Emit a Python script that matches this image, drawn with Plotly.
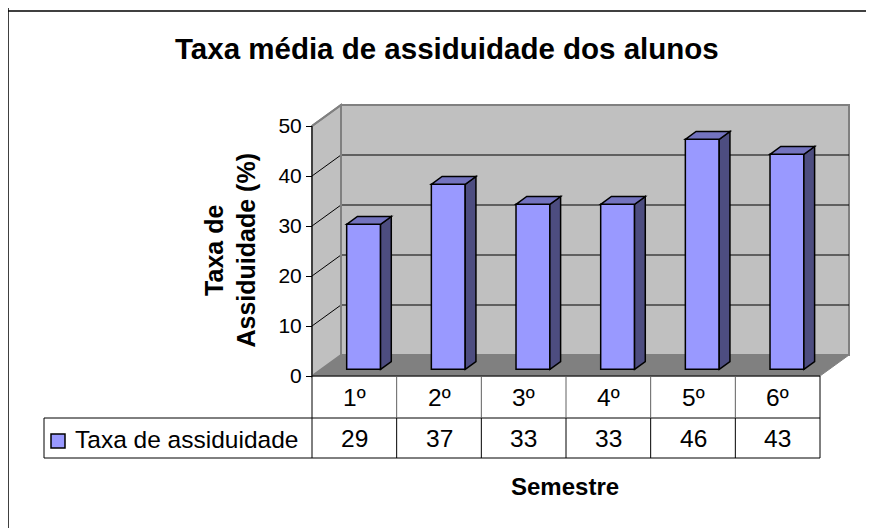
import plotly.graph_objects as go

# ---- data ----
categories = ["1º", "2º", "3º", "4º", "5º", "6º"]
values = [29, 37, 33, 33, 46, 43]
series_name = "Taxa de assiduidade"
y_ticks = [0, 10, 20, 30, 40, 50]
title_text = "Taxa média de assiduidade dos alunos"
y_title = "Taxa de<br>Assiduidade (%)"
x_title = "Semestre"

# ---- geometry (pixel frame of the page; figure sits at the 8px body margin) ----
W, H = 866, 520
OFF = 8
X0, CW = 312.0, 84.667   # left edge of the front plane, width of one category
Y0, PY = 376.0, 5.0      # pixel of value 0, pixels per unit

def xd(px):
    return -0.5 + (px - X0) / CW

def yd(py):
    return (Y0 - py) / PY

n = len(categories)
ymax = max(y_ticks)
wdx, wdy = 29 / CW, 21 / PY
bshx, bshy = 0.32 * wdx, 0.32 * wdy
bdx, bdy = 0.37 * wdx, 0.37 * wdy
bw = 0.40

FONT = "Arial, Liberation Sans, sans-serif"
FRONT, SIDE, TOP = "#9999FF", "#4D4D80", "#7373BF"

fig = go.Figure()

xs = [i + bshx for i in range(n)]
fig.add_trace(go.Bar(
    x=xs, y=values, base=bshy, width=bw,
    marker=dict(color=FRONT, line=dict(color="black", width=1.5)),
    showlegend=False, hoverinfo="skip",
))

shapes = []

def poly(pts, fill, line="black", lw=1, layer="above"):
    d = "M " + " L ".join(f"{x},{y}" for x, y in pts) + " Z"
    shapes.append(dict(type="path", path=d, xref="x", yref="y",
                       fillcolor=fill, line=dict(color=line, width=lw), layer=layer))

def seg(x1, y1, x2, y2, color="black", lw=1, layer="above"):
    shapes.append(dict(type="line", x0=x1, y0=y1, x1=x2, y1=y2, xref="x", yref="y",
                       line=dict(color=color, width=lw), layer=layer))

L, R = -0.5, n - 0.5
poly([(L, 0), (R, 0), (R + wdx, wdy), (L + wdx, wdy)], "#808080", line="#808080", lw=1, layer="below")
poly([(L, 0), (L + wdx, wdy), (L + wdx, ymax + wdy), (L, ymax)], "#C0C0C0", line="#808080", lw=2, layer="below")
poly([(L + wdx, wdy), (R + wdx, wdy), (R + wdx, ymax + wdy), (L + wdx, ymax + wdy)], "#C0C0C0",
     line="#808080", lw=2, layer="below")
for t in y_ticks[1:-1]:
    seg(L + wdx, t + wdy, R + wdx, t + wdy, "black", 1, "below")
    seg(L, t, L + wdx, t + wdy, "black", 1, "below")
seg(L, ymax, L + wdx, ymax + wdy, "#808080", 2, "below")
seg(L + wdx, wdy, L + wdx, ymax + wdy, "#808080", 2, "below")

for x, v in zip(xs, values):
    xl, xr = x - bw / 2, x + bw / 2
    b, t = bshy, bshy + v
    poly([(xr, b), (xr + bdx, b + bdy), (xr + bdx, t + bdy), (xr, t)], SIDE, lw=1.5)
    poly([(xl, t), (xl + bdx, t + bdy), (xr + bdx, t + bdy), (xr, t)], TOP, lw=1.5)

seg(L, 0, L, ymax, "black", 1)

# data table
r0, r1, r2 = 0, yd(418), yd(458)
xleft = xd(44)
seg(L, r0, R, r0, "black", 1)
seg(xleft, r1, R, r1, "black", 1)
seg(xleft, r2, R, r2, "black", 1)
seg(xleft, r1, xleft, r2, "black", 1)
for k in range(n + 1):
    xb = L + k
    outer = k in (0, n)
    seg(xb, r0, xb, r1, "black" if outer else "#606060", 1)
    seg(xb, r1, xb, r2, "black", 1)

shapes.append(dict(type="rect", xref="x", yref="y", x0=xd(51), x1=xd(65), y0=yd(448), y1=yd(434),
                   fillcolor=FRONT, line=dict(color="black", width=1.5)))

# chart border (left and top edges visible)
shapes.append(dict(type="line", xref="x", yref="paper", x0=xd(8), x1=xd(8), y0=0, y1=1,
                   line=dict(color="black", width=1.5)))
shapes.append(dict(type="line", xref="paper", yref="y", x0=0, x1=1, y0=yd(11), y1=yd(11),
                   line=dict(color="black", width=1.5)))

annotations = []
TF = 24.5
for i, (c, v) in enumerate(zip(categories, values)):
    annotations.append(dict(x=i, y=yd(397), text=c, showarrow=False, xref="x", yref="y",
                            font=dict(size=TF, color="black", family=FONT)))
    annotations.append(dict(x=i, y=yd(438), text=str(v), showarrow=False, xref="x", yref="y",
                            font=dict(size=TF, color="black", family=FONT)))
annotations.append(dict(x=xd(73), y=yd(439), text=series_name, showarrow=False, xref="x", yref="y",
                        xanchor="left", font=dict(size=TF, color="black", family=FONT)))
annotations.append(dict(x=xd(447), y=yd(48), text=f"<b>{title_text}</b>", showarrow=False, xref="x", yref="y",
                        font=dict(size=29.5, color="black", family=FONT)))
annotations.append(dict(x=xd(565), y=yd(486), text=f"<b>{x_title}</b>", showarrow=False, xref="x", yref="y",
                        font=dict(size=24, color="black", family=FONT)))
annotations.append(dict(x=xd(229.5), y=yd(251), text=f"<b>{y_title}</b>", showarrow=False, xref="x", yref="y",
                        textangle=-90, font=dict(size=25, color="black", family=FONT)))

fig.update_layout(
    width=W, height=H, margin=dict(l=0, r=0, t=0, b=0),
    paper_bgcolor="white", plot_bgcolor="white",
    showlegend=False, shapes=shapes, annotations=annotations,
    xaxis=dict(range=[xd(OFF), xd(OFF + W)], visible=False, fixedrange=True),
    yaxis=dict(range=[yd(OFF + H), yd(OFF)], anchor="free", position=(X0 - OFF) / W, tickmode="array",
               tickvals=y_ticks, ticktext=[str(t) for t in y_ticks], ticks="outside", ticklen=6,
               tickcolor="black", showgrid=False, zeroline=False, showline=False,
               tickfont=dict(size=21, color="black", family=FONT), fixedrange=True),
)

fig.write_html("out.html")
